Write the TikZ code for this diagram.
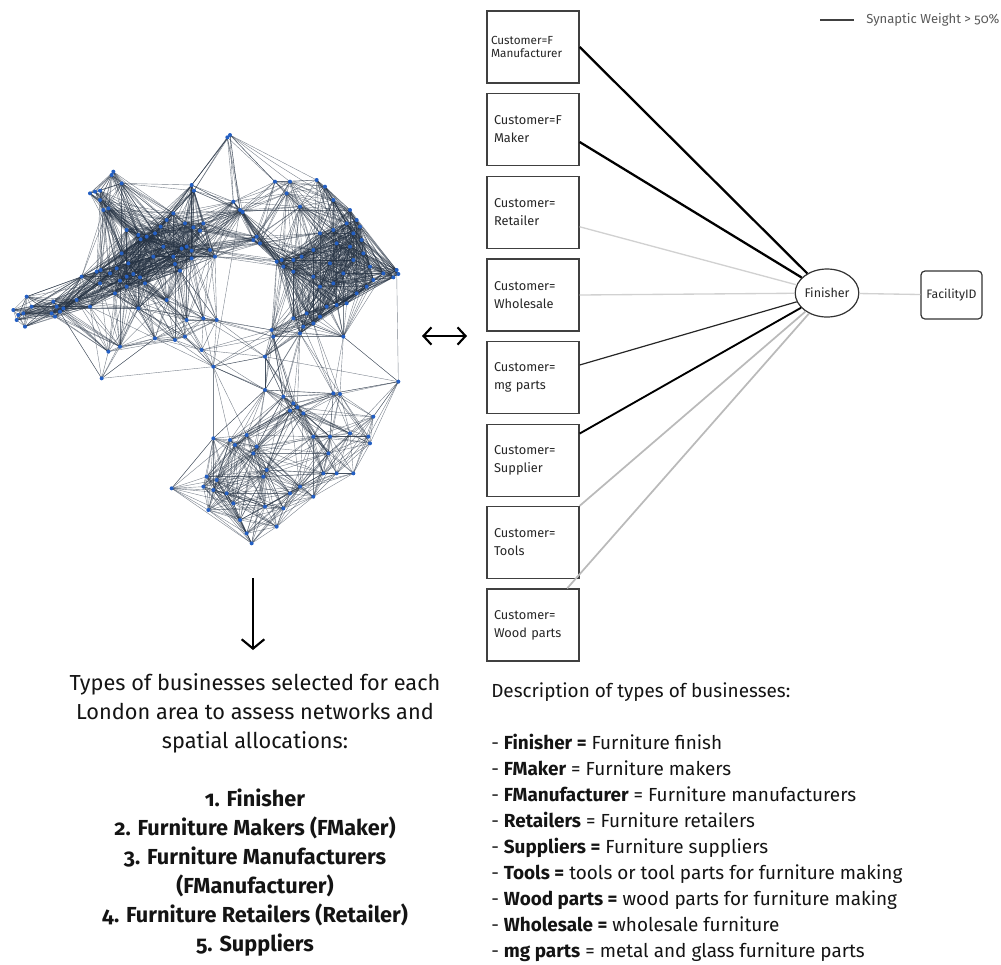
\documentclass[tikz,border=0pt]{standalone}
\usepackage{fontspec}
\setmainfont{Fira Sans}[Numbers=OldStyle]
\usetikzlibrary{arrows.meta,shapes.geometric}

\definecolor{netblue}{RGB}{35,95,195}
\definecolor{netline}{RGB}{35,48,65}
\newdimen\netdx
\newdimen\netdy
\def\netthr{230pt}

% points of the London network (zoomed pixel units)
\def\netpts{690/45, 682/52,
 340/155, 335/165, 270/220, 285/215, 300/212, 365/190, 310/270, 325/265, 300/240, 380/330,
 575/195, 582/212, 700/245, 720/270, 728/276, 520/280, 500/300, 482/320, 465/340, 415/345,
 422/358, 440/350, 555/310, 580/322, 610/310, 600/332, 560/380, 575/392, 545/386, 630/390,
 520/410, 525/432, 540/452, 575/415, 645/410, 385/430, 365/400, 460/410, 490/380,
 245/470, 290/455, 302/450, 330/460, 350/445, 360/482, 380/470, 400/462, 420/472, 435/490,
 380/500, 345/520, 300/490, 160/545, 170/560, 180/575, 155/580, 165/590, 190/565, 415/565,
 270/560, 230/540,
 80/530, 40/570, 50/600, 75/620, 70/580, 55/585, 95/560,
 325/695, 305/775, 360/680, 465/655, 525/660, 555/650, 610/595, 650/600, 605/690, 640/740,
 795/710, 815/630, 820/650, 500/540, 560/600,
 825/185, 870/185, 950/180, 975/200, 1000/240, 1050/270, 1070/300, 1040/310, 1000/330,
 1060/340, 1080/320, 1085/360, 1050/380, 1010/370, 960/340, 940/390, 905/410, 880/420,
 845/420, 830/425, 850/440, 880/455, 770/350, 780/370, 760/360, 900/260, 860/220,
 1190/450, 1195/462, 1180/472, 1150/460, 1120/480, 1100/500, 1070/520, 1040/550, 1010/555,
 980/560, 960/590, 940/610, 910/620, 900/640, 880/595, 920/580, 960/500, 1000/490, 1030/460,
 1060/420, 1090/400, 1110/440, 1030/650, 990/430, 940/470,
 1195/785, 1000/820, 1020/822, 795/810, 850/830, 880/850, 892/862, 870/872, 910/880, 1120/890,
 1105/950, 1110/970, 1050/940, 990/950, 940/950, 985/1000, 970/1060, 1010/1060, 1060/1060,
 640/955, 690/960, 740/945, 705/975, 770/980, 800/1050, 790/1070, 760/1000, 620/1070,
 650/1080, 610/1100, 515/1105, 640/1110, 680/1120, 700/1150, 625/1170, 720/1200, 795/1160,
 850/1165, 830/1220, 755/1270, 740/1240, 870/1120, 940/1130, 900/1100}

\tikzset{
  custbox/.style={draw=black!75,line width=1pt,minimum width=69pt,minimum height=54pt,
    text width=58.5pt,align=left,inner xsep=5.25pt,inner ysep=0pt,
    font=\fontsize{9.6}{13.5}\selectfont,text=black!85},
  strong/.style={line width=1.7pt,black},
  medium/.style={line width=1.4pt,black},
  thinlink/.style={line width=0.9pt,black!85},
  weak/.style={line width=1pt,black!18},
  weakish/.style={line width=1.3pt,black!27},
  netedge/.style={line width=0.3pt,draw=netline,draw opacity=0.6},
  barbs/.style={line width=1.6pt,{Straight Barb[length=6pt,width=13pt]}-{Straight Barb[length=6pt,width=13pt]}},
}

\begin{document}
\begin{tikzpicture}[x=0.75pt,y=-0.75pt]
  \useasboundingbox (0,0) rectangle (1001,965) ;

  % network of businesses
  \begin{scope}[shift={(0,120)},x=0.25pt,y=-0.25pt]
    \foreach \x/\y [count=\i] in \netpts {
      \coordinate (n\i) at (\x,\y) ;
      \expandafter\xdef\csname nx\i\endcsname{\x}
      \expandafter\xdef\csname ny\i\endcsname{\y}
      \xdef\netN{\i}
    }
    \foreach \i in {1,...,\netN}{
      \foreach \j in {\i,...,\netN}{
        \netdx=\csname nx\j\endcsname pt \advance\netdx by -\csname nx\i\endcsname pt
        \netdy=\csname ny\j\endcsname pt \advance\netdy by -\csname ny\i\endcsname pt
        \ifdim\netdx<0pt \netdx=-\netdx \fi
        \ifdim\netdy<0pt \netdy=-\netdy \fi
        \ifdim\netdx<\netthr \ifdim\netdy<\netthr
          \pgfmathveclen{\netdx}{\netdy}
          \ifdim\pgfmathresult pt<\netthr \ifnum\j>\i
            \draw[netedge] (n\i) -- (n\j) ;
          \fi\fi
        \fi\fi
      }
    }
    % a few long links
    \foreach \a/\b/\c/\d in {690/45/575/195, 690/45/720/270, 690/45/825/185, 690/45/950/180,
      690/45/480/320, 690/45/1000/240, 720/270/415/565, 720/270/555/310, 720/270/830/425,
      720/270/1050/270, 720/270/640/740, 415/565/160/545, 415/565/245/470, 415/565/305/775,
      415/565/650/600, 415/565/555/650, 305/775/160/545, 305/775/465/655, 305/775/640/740,
      795/710/880/595, 795/710/640/740, 795/710/1195/785, 795/710/795/810, 795/710/820/650,
      1195/785/1030/650, 1195/785/1000/820, 1195/785/1120/890, 1195/785/1190/450,
      640/740/795/810, 640/740/555/650, 640/955/795/810, 515/1105/640/955, 755/1270/515/1105,
      850/830/815/630, 1030/650/880/595, 160/545/305/775, 80/530/245/470}
      \draw[netedge] (\a,\b) -- (\c,\d) ;
    \foreach \i in {1,...,\netN}
      \fill[netblue] (n\i) circle (1.5pt) ;
  \end{scope}

  % arrows
  \coordinate (lrL) at (422,336) ;
  \coordinate (lrR) at (467,336) ;
  \draw[barbs] (lrL) -- (lrR) ;
  \coordinate (dnT) at (253,578) ;
  \coordinate (dnB) at (253,650) ;
  \draw[line width=1.6pt,-{Straight Barb[length=7pt,width=17pt]}] (dnT) -- (dnB) ;

  % customer boxes
  \node[custbox,inner xsep=3pt,text width=63pt,font=\fontsize{8.8}{9.5}\selectfont] (fman) at (533,47) {Customer=F\\Manufacturer} ;
  \node[custbox] (fmak) at (533,129.5) {Customer=F\\Maker} ;
  \node[custbox] (retl) at (533,212.5) {Customer=\\Retailer} ;
  \node[custbox] (whol) at (533,295) {Customer=\\Wholesale} ;
  \node[custbox] (mgpt) at (533,377.5) {Customer=\\mg parts} ;
  \node[custbox] (supp) at (533,460.5) {Customer=\\Supplier} ;
  \node[custbox] (tool) at (533,542.5) {Customer=\\Tools} ;
  \node[custbox] (wood) at (533,625) {Customer=\\Wood parts} ;

  \node[ellipse,draw=black!80,line width=0.9pt,minimum width=45.75pt,minimum height=36pt,
    inner sep=0pt,font=\fontsize{9.4}{11}\selectfont,text=black!85] (fin) at (827,293) {Finisher} ;
  \node[draw=black!80,line width=0.9pt,rounded corners=3pt,minimum width=45.75pt,minimum height=36pt,
    inner sep=0pt,font=\fontsize{9.2}{11}\selectfont,text=black!85] (fac) at (951.5,295) {FacilityID} ;

  \draw[strong] (fman.east) -- (fin) ;
  \draw[strong] (fmak.-15) -- (fin) ;
  \draw[weak] (retl.-17) -- (fin) ;
  \draw[weak] (whol.east) -- (fin) ;
  \draw[thinlink] (mgpt.15) -- (fin) ;
  \draw[medium] (supp.30) -- (fin) ;
  \draw[weakish] (tool.north east) -- (fin) ;
  \draw[weakish] (wood.47) -- (fin) ;
  \draw[weak] (fin) -- (fac) ;

  % legend
  \coordinate (legA) at (820,20) ;
  \coordinate (legB) at (854,20) ;
  \draw[black!75,line width=1.2pt] (legA) -- (legB) ;
  \node[anchor=west,inner sep=0pt,font=\fontsize{9.8}{11}\selectfont,text=black!65] (legtxt) at (866,20) {Synaptic Weight > 50\%} ;

  % texts
  \node[anchor=north,align=center,inner sep=0pt,font=\fontsize{16.3}{21.75}\selectfont,text=black!92] (types) at (255,673)
    {Types of businesses selected for each\\
     London area to assess networks and\\
     spatial allocations:\\[21.75pt]
     \textbf{1. Finisher}\\
     \textbf{2. Furniture Makers (FMaker)}\\
     \textbf{3. Furniture Manufacturers}\\
     \textbf{(FManufacturer)}\\
     \textbf{4. Furniture Retailers (Retailer)}\\
     \textbf{5. Suppliers}} ;
  \node[anchor=north west,align=left,inner sep=0pt,font=\fontsize{14.2}{19.5}\selectfont,text=black!92] (descr) at (491,682)
    {Description of types of businesses:\\[19.5pt]
     - \textbf{Finisher =} Furniture finish\\
     - \textbf{FMaker} = Furniture makers\\
     - \textbf{FManufacturer} = Furniture manufacturers\\
     - \textbf{Retailers} = Furniture retailers\\
     - \textbf{Suppliers =} Furniture suppliers\\
     - \textbf{Tools =} tools or tool parts for furniture making\\
     - \textbf{Wood parts =} wood parts for furniture making\\
     - \textbf{Wholesale =} wholesale furniture\\
     - \textbf{mg parts} = metal and glass furniture parts} ;
\end{tikzpicture}
\end{document}
